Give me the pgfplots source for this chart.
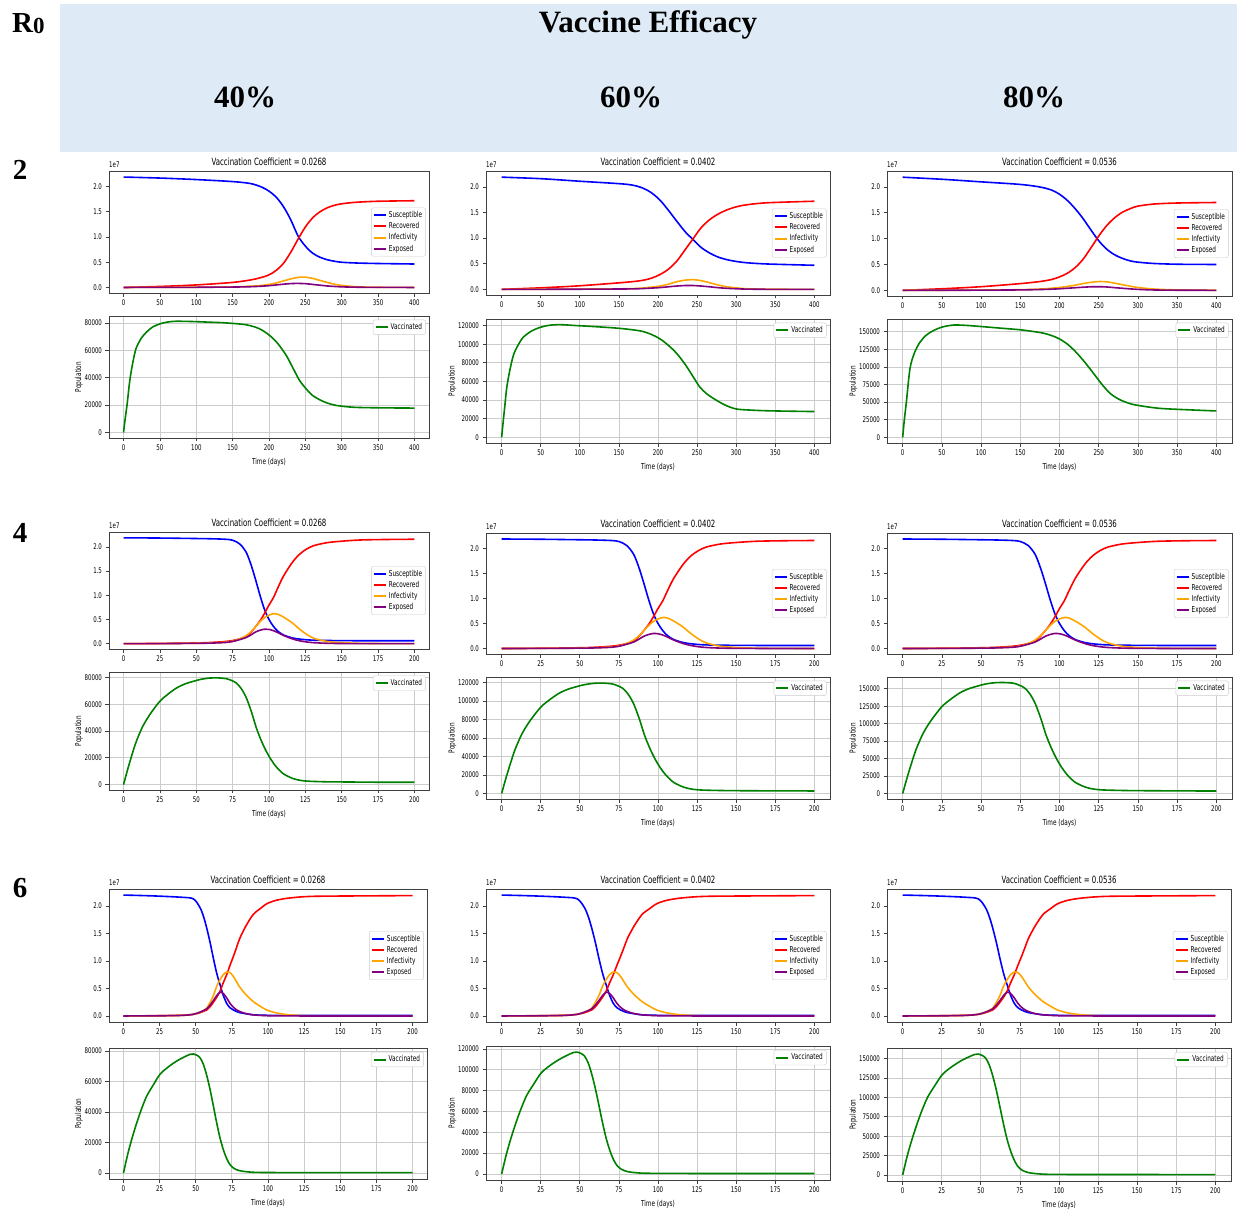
\documentclass[border=0pt]{standalone}
\usepackage{fontspec}
\usepackage{pgfplots}
\usepackage{pgfplotstable}
\pgfplotsset{compat=1.18}
\newfontfamily\mpl[FakeStretch=0.7]{DejaVu Sans}
\newfontfamily\tnr{Liberation Serif}
\definecolor{band}{RGB}{222,234,246}
\definecolor{mblue}{RGB}{0,0,255}
\definecolor{mred}{RGB}{255,0,0}
\definecolor{morange}{RGB}{255,165,0}
\definecolor{mpurple}{RGB}{128,0,128}
\definecolor{mgreen}{RGB}{0,128,0}

\pgfplotsset{
  mplbase/.style={
    scale only axis, anchor=north west, clip mode=individual,
    axis line style={black!75, line width=0.7pt},
    tick align=outside, tick pos=left,
    major tick length=3.5pt,
    major tick style={black!75, line width=0.7pt},
    tick label style={font=\mpl\fontsize{7.8}{8}\selectfont},
    /pgf/number format/assume math mode=true,
    scaled ticks=false,
    label style={font=\mpl\fontsize{8.2}{9}\selectfont},
    ylabel style={yshift=-5pt},
    legend style={font=\mpl\fontsize{8.2}{9}\selectfont, draw=black!20, rounded corners=2pt,
      fill=white, inner sep=1.5pt, row sep=-0.5pt},
    legend cell align=left,
    legend image code/.code={\draw[##1,line width=2pt] (0pt,0pt) -- (12pt,0pt);},
    title style={font=\mpl\fontsize{10}{11}\selectfont, at={(0.5,1)}, anchor=south,
      inner sep=0pt, yshift=-1pt},
    every axis plot/.append style={line width=1.6pt, smooth, tension=0.5},
  },
  seirax/.style={mplbase, ymin=-0.11, ymax=2.31, ytick={0,0.5,1,1.5,2},
    yticklabel style={/pgf/number format/.cd, fixed, fixed zerofill, precision=1},
    legend style={at={(0.99,0.5)}, anchor=east}},
  vacax/.style={mplbase, grid=major, grid style={black!20, line width=0.8pt},
    ylabel={Population}, xlabel={Time (days)},
    yticklabel style={/pgf/number format/.cd, fixed, 1000 sep={}},
    legend style={at={(0.99,0.97)}, anchor=north east}},
  long/.style={xmin=-20, xmax=420, xtick={0,50,...,400}},
  short/.style={xmin=-10, xmax=210, xtick={0,25,...,200}},
}

\newcommand{\seir}[1]{%
  \addplot[mblue] table[x=t,y=S]{#1};
  \addplot[mred] table[x=t,y=R]{#1};
  \addplot[morange] table[x=t,y=I]{#1};
  \addplot[mpurple] table[x=t,y=E]{#1};
  \legend{Susceptible, Recovered, Infectivity, Exposed}
  \node[anchor=south west, inner sep=0pt, yshift=3pt, font=\mpl\fontsize{7.8}{8}\selectfont]
    at (rel axis cs:0,1) {1e7};
}
\newcommand{\vac}[1]{%
  \addplot[mgreen] table[x=t,y=V]{#1};
  \legend{Vaccinated}
}

\begin{document}

% R0 = 2, values in units of 1e7
\pgfplotstableread{
t S R I E
0 2.190 0.000 0.000 0.000
50 2.170 0.020 0.001 0.001
100 2.140 0.050 0.005 0.003
150 2.100 0.100 0.010 0.008
175 2.060 0.150 0.025 0.015
190 1.990 0.200 0.040 0.025
200 1.910 0.250 0.060 0.035
210 1.790 0.340 0.090 0.050
220 1.600 0.480 0.130 0.065
230 1.340 0.700 0.170 0.077
240 1.020 0.960 0.200 0.080
250 0.820 1.200 0.205 0.075
260 0.680 1.380 0.180 0.060
270 0.600 1.500 0.140 0.045
280 0.550 1.580 0.100 0.030
290 0.520 1.630 0.065 0.020
300 0.500 1.660 0.040 0.012
320 0.485 1.690 0.015 0.005
350 0.475 1.710 0.004 0.001
400 0.465 1.720 0.000 0.000
}\topA
\pgfplotstableread{
t S R I E
0 2.190 0.000 0.000 0.000
50 2.160 0.030 0.002 0.001
100 2.110 0.070 0.005 0.003
160 2.050 0.140 0.012 0.008
180 1.980 0.175 0.025 0.015
192 1.880 0.220 0.045 0.025
202.6 1.740 0.290 0.065 0.035
213 1.550 0.390 0.100 0.050
224 1.330 0.550 0.150 0.065
235 1.120 0.780 0.180 0.075
245 0.970 0.990 0.190 0.075
255 0.820 1.200 0.170 0.065
266 0.710 1.360 0.130 0.050
277 0.630 1.470 0.085 0.033
288 0.580 1.550 0.050 0.020
300 0.545 1.610 0.030 0.012
313 0.520 1.650 0.012 0.005
340 0.495 1.690 0.003 0.001
400 0.470 1.720 0.000 0.000
}\topB
\pgfplotstableread{
t S R I E
0 2.190 0.000 0.000 0.000
50 2.150 0.030 0.002 0.001
100 2.100 0.070 0.005 0.003
150 2.050 0.130 0.012 0.008
175 2.000 0.170 0.025 0.015
190 1.940 0.210 0.040 0.022
200 1.860 0.260 0.055 0.030
210 1.740 0.330 0.075 0.040
220 1.580 0.440 0.100 0.050
230 1.390 0.600 0.130 0.060
240 1.170 0.820 0.155 0.068
250 0.960 1.050 0.170 0.070
260 0.800 1.250 0.165 0.065
270 0.690 1.400 0.140 0.052
280 0.620 1.510 0.110 0.040
290 0.570 1.580 0.080 0.028
300 0.545 1.630 0.055 0.018
320 0.520 1.670 0.025 0.007
350 0.505 1.690 0.008 0.002
400 0.500 1.700 0.001 0.000
}\topC
% R0 = 4
\pgfplotstableread{
t S R I E
0 2.190 0.000 0.000 0.000
25 2.185 0.005 0.002 0.002
50 2.175 0.015 0.008 0.007
60 2.170 0.025 0.015 0.012
70 2.160 0.045 0.030 0.025
75 2.140 0.065 0.050 0.045
80 2.060 0.100 0.100 0.085
84.5 1.880 0.150 0.170 0.130
88 1.600 0.250 0.260 0.190
91 1.300 0.360 0.360 0.245
94 0.980 0.480 0.460 0.280
97 0.700 0.630 0.540 0.300
100 0.500 0.800 0.590 0.295
103 0.360 0.950 0.620 0.270
106 0.260 1.150 0.610 0.230
110 0.180 1.400 0.550 0.170
116 0.120 1.680 0.430 0.100
121 0.095 1.850 0.300 0.060
126 0.080 1.960 0.190 0.035
131 0.072 2.030 0.110 0.020
140 0.066 2.090 0.045 0.008
150 0.063 2.120 0.020 0.003
163 0.061 2.145 0.007 0.001
180 0.060 2.155 0.002 0.000
200 0.060 2.160 0.000 0.000
}\midT
% R0 = 6
\pgfplotstableread{
t S R I E
0 2.200 0.000 0.000 0.000
20 2.185 0.004 0.002 0.002
40 2.160 0.012 0.010 0.010
48.4 2.130 0.030 0.030 0.030
53 1.970 0.060 0.070 0.070
55.5 1.800 0.085 0.100 0.100
57.6 1.600 0.110 0.140 0.130
60 1.330 0.170 0.250 0.200
62.2 1.050 0.250 0.370 0.280
64.5 0.780 0.340 0.540 0.370
66.8 0.570 0.450 0.660 0.430
69 0.380 0.600 0.750 0.410
71.4 0.230 0.750 0.800 0.330
73.7 0.150 0.920 0.790 0.230
76 0.110 1.080 0.720 0.160
78.3 0.080 1.250 0.620 0.110
80.6 0.060 1.420 0.520 0.080
85 0.040 1.650 0.380 0.040
89.9 0.020 1.850 0.260 0.020
95 0.015 1.960 0.170 0.010
99 0.012 2.040 0.110 0.005
105 0.011 2.100 0.060 0.002
113 0.010 2.140 0.025 0.001
125 0.010 2.170 0.005 0.000
140 0.010 2.180 0.001 0.000
200 0.010 2.190 0.000 0.000
}\lowT

% vaccinated
\pgfplotstableread{
t V
0 0
2 9000
5 21000
8.3 36700
12 49000
17 61000
24 68500
31 73000
40 77000
50 79300
60 80600
72 81200
95 81000
120 80500
141 80000
169 78600
187 75700
201 70800
212 65000
224 56000
233 47000
242 38000
251 31900
260 27000
270 23800
280 21500
293 19700
316 18400
350 18000
400 17800
}\vAa
\pgfplotstableread{
t V
0 0
2 17000
4 33000
6.4 52500
10 70000
15 88000
21 99000
27.7 107500
38 114000
49 118000
60 120200
74.5 121000
95 120000
117 119000
151 117000
177 114300
190 111000
202 106000
213 99000
224 90000
235 78000
245 65000
253.5 54000
262 47000
270.5 42000
285 35000
300 30500
320 29200
347 28400
400 27700
}\vAb
\pgfplotstableread{
t V
0 0
2 24000
4.5 48000
9.3 97500
15 120000
22 135000
30 145000
39 151400
50 156500
64.4 159400
80 159000
98 157500
125 155000
149 152800
165 150500
179 148000
190 144500
200 139700
211 131500
221 121000
232 107000
242 92800
255 74000
265 62000
276 54000
287 49000
297 46000
327 41250
369 38900
400 37500
}\vAc
\pgfplotstableread{
t V
0 0
3 12000
6 23000
8.7 32000
13 43000
17.9 52000
24.8 62000
30 67000
36.3 72000
42 75000
47.8 77000
53 78500
59.2 79500
65 79600
70.7 79000
74 77800
77.6 75750
81 71500
84.5 64500
88 54000
91.4 42000
95 32000
98.3 24500
101.5 18500
105 13250
110 8000
116.6 4500
122 3100
128 2500
140 2100
151 2000
175 1800
200 1750
}\vBa
\pgfplotstableread{
t V
0 0
3 18000
6 34500
8.7 48000
13 64500
17.9 78000
24.8 93000
30 100500
36.3 108000
42 112500
47.8 115500
53 117700
59.2 119200
65 119400
70.7 118500
74 116700
77.6 113600
81 107200
84.5 96700
88 81000
91.4 63000
95 48000
98.3 36700
101.5 27700
105 19900
110 12000
116.6 6700
122 4600
128 3700
140 3200
151 3000
175 2800
200 2700
}\vBb
\pgfplotstableread{
t V
0 0
3 24000
6 46000
8.7 64000
13 86000
17.9 104000
24.8 124000
30 134000
36.3 144000
42 150000
47.8 154000
53 157000
59.2 158800
65 159000
70.7 158000
74 155500
77.6 151500
81 143000
84.5 129000
88 108000
91.4 84000
95 64000
98.3 49000
101.5 37000
105 26500
110 16000
116.6 9000
122 6200
128 5000
140 4300
151 4000
175 3700
200 3500
}\vBc
\pgfplotstableread{
t V
0 0
3 12500
6 23000
9.2 32900
12.5 42000
16.1 50400
20.5 57500
25.3 64700
31 69500
36.9 73400
42 76000
46.1 77800
48.5 78000
50.7 77200
53 75500
55.3 71200
57.6 64000
59.9 54800
62.2 44000
64.5 32900
66.8 23000
69.1 15300
71.4 9500
73.7 5500
76.5 3000
80.6 1500
87 700
94.5 400
120 300
200 250
}\vCa
\pgfplotstableread{
t V
0 0
3 18700
6 34500
9.2 49300
12.5 63000
16.1 75600
20.5 86200
25.3 97000
31 104200
36.9 110000
42 114000
46.1 116700
48.5 117000
50.7 115800
53 113200
55.3 106800
57.6 96000
59.9 82200
62.2 66000
64.5 49300
66.8 34500
69.1 23000
71.4 14200
73.7 8200
76.5 4500
80.6 2200
87 1000
94.5 600
120 450
200 400
}\vCb
\pgfplotstableread{
t V
0 0
3 25000
6 46000
9.2 65800
12.5 84000
16.1 100800
20.5 115000
25.3 129400
31 139000
36.9 146800
42 152000
46.1 155500
48.5 156000
50.7 154400
53 151000
55.3 142400
57.6 128000
59.9 109600
62.2 88000
64.5 65800
66.8 46000
69.1 30600
71.4 19000
73.7 11000
76.5 6000
80.6 3000
87 1400
94.5 800
120 600
200 500
}\vCc

\begin{tikzpicture}
\useasboundingbox (0pt,0pt) rectangle (1237pt,-1209pt);
\fill[band] (60pt,-4pt) rectangle (1237pt,-152pt);
\node[font=\tnr\bfseries\fontsize{31}{32}\selectfont] at (648pt,-25pt) {Vaccine Efficacy};
\node[font=\tnr\bfseries\fontsize{31}{32}\selectfont] at (245pt,-97pt) {40\%};
\node[font=\tnr\bfseries\fontsize{31}{32}\selectfont] at (631pt,-97pt) {60\%};
\node[font=\tnr\bfseries\fontsize{31}{32}\selectfont] at (1034pt,-97pt) {80\%};
\node[anchor=base west, inner sep=0pt, font=\tnr\bfseries\fontsize{29}{30}\selectfont]
  at (12pt,-33pt) {R\raisebox{-1pt}{\fontsize{23}{24}\selectfont 0}};
\node[font=\tnr\bfseries\fontsize{29}{30}\selectfont] at (20pt,-170pt) {2};
\node[font=\tnr\bfseries\fontsize{29}{30}\selectfont] at (20pt,-533pt) {4};
\node[font=\tnr\bfseries\fontsize{29}{30}\selectfont] at (20pt,-888pt) {6};

% ---- R0 = 2
\begin{axis}[seirax, long, at={(109pt,-171pt)}, width=320pt, height=122pt,
  title={Vaccination Coefficient = 0.0268}]
\seir{\topA}
\end{axis}
\begin{axis}[vacax, long, at={(109pt,-316pt)}, width=320pt, height=122pt,
  ymin=-4050, ymax=85050, ytick={0,20000,...,80000}]
\vac{\vAa}
\end{axis}
\begin{axis}[seirax, long, at={(486pt,-171pt)}, width=344pt, height=124pt,
  title={Vaccination Coefficient = 0.0402}]
\seir{\topB}
\end{axis}
\begin{axis}[vacax, long, at={(486pt,-319pt)}, width=344pt, height=124pt,
  ymin=-6050, ymax=127050, ytick={0,20000,...,120000}]
\vac{\vAb}
\end{axis}
\begin{axis}[seirax, long, at={(887pt,-171pt)}, width=345pt, height=125pt,
  title={Vaccination Coefficient = 0.0536}]
\seir{\topC}
\end{axis}
\begin{axis}[vacax, long, at={(887pt,-319pt)}, width=345pt, height=124pt,
  ymin=-8000, ymax=168000, ytick={0,25000,...,150000}]
\vac{\vAc}
\end{axis}

% ---- R0 = 4
\begin{axis}[seirax, short, at={(109pt,-532pt)}, width=320pt, height=117pt,
  title={Vaccination Coefficient = 0.0268}]
\seir{\midT}
\end{axis}
\begin{axis}[vacax, short, at={(109pt,-672pt)}, width=320pt, height=118pt,
  ymin=-4000, ymax=84000, ytick={0,20000,...,80000}]
\vac{\vBa}
\end{axis}
\begin{axis}[seirax, short, at={(486pt,-533pt)}, width=344pt, height=121pt,
  title={Vaccination Coefficient = 0.0402}]
\seir{\midT}
\end{axis}
\begin{axis}[vacax, short, at={(486pt,-677pt)}, width=344pt, height=122pt,
  ymin=-6000, ymax=126000, ytick={0,20000,...,120000}]
\vac{\vBb}
\end{axis}
\begin{axis}[seirax, short, at={(887pt,-533pt)}, width=345pt, height=121pt,
  title={Vaccination Coefficient = 0.0536}]
\seir{\midT}
\end{axis}
\begin{axis}[vacax, short, at={(887pt,-677pt)}, width=345pt, height=122pt,
  ymin=-7950, ymax=166950, ytick={0,25000,...,150000}]
\vac{\vBc}
\end{axis}

% ---- R0 = 6
\begin{axis}[seirax, short, at={(109pt,-889pt)}, width=318pt, height=133pt,
  title={Vaccination Coefficient = 0.0268}]
\seir{\lowT}
\end{axis}
\begin{axis}[vacax, short, at={(109pt,-1048pt)}, width=318pt, height=131pt,
  ymin=-3900, ymax=81900, ytick={0,20000,...,80000}]
\vac{\vCa}
\end{axis}
\begin{axis}[seirax, short, at={(486pt,-889pt)}, width=344pt, height=133pt,
  title={Vaccination Coefficient = 0.0402}]
\seir{\lowT}
\end{axis}
\begin{axis}[vacax, short, at={(486pt,-1046pt)}, width=344pt, height=134pt,
  ymin=-5850, ymax=122850, ytick={0,20000,...,120000}]
\vac{\vCb}
\end{axis}
\begin{axis}[seirax, short, at={(887pt,-889pt)}, width=344pt, height=133pt,
  title={Vaccination Coefficient = 0.0536}]
\seir{\lowT}
\end{axis}
\begin{axis}[vacax, short, at={(887pt,-1048pt)}, width=344pt, height=133pt,
  ymin=-7800, ymax=163800, ytick={0,25000,...,150000}]
\vac{\vCc}
\end{axis}
\end{tikzpicture}
\end{document}
